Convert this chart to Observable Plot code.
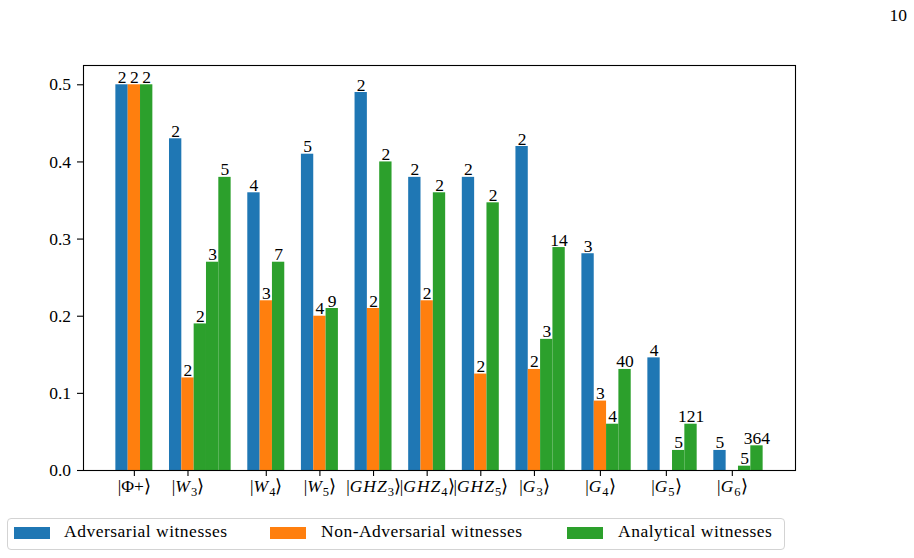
<!DOCTYPE html>
<html>
<head>
<meta charset="utf-8">
<script src="https://cdn.jsdelivr.net/npm/d3@7"></script>
<script src="https://cdn.jsdelivr.net/npm/@observablehq/plot@0.6"></script>
<style>
  body { margin: 0; background: #fff; }
  #page { position: relative; width: 914px; height: 558px; overflow: hidden; font-family: 'Liberation Serif'; color: #000; }
  #chart { position: absolute; left: 0; top: 0; }
  #pnum { position: absolute; right: 7px; top: 5px; font-size: 17.5px; line-height: 20px; font-family: 'Liberation Serif'; }
  #legendbox { position: absolute; left: 7px; top: 518px; width: 778px; height: 32px; box-sizing: border-box; border: 1px solid #d3d3d3; border-radius: 4px; background: #fff; }
  .sw { position: absolute; top: 527px; width: 36px; height: 12px; }
  .lt { position: absolute; top: 521px; font-size: 17.5px; line-height: 20px; white-space: nowrap; font-family: 'Liberation Serif'; letter-spacing: 0.5px; }
</style>
</head>
<body>
<div id="page">
  <div id="chart"></div>
  <div id="pnum">10</div>
  <div id="legendbox"></div>
  <div id="legend"></div>
</div>
<script>
// ---- data ----
const stateLabels = ["Φ+", "W_3", "W_4", "W_5", "GHZ_3", "GHZ_4", "GHZ_5", "G_3", "G_4", "G_5", "G_6"];
const seriesNames = ["Adversarial witnesses", "Non-Adversarial witnesses", "Analytical witnesses"];
const seriesColors = ["#1f77b4", "#ff7f0e", "#2ca02c"];

const adversarial       = [0.5, 0.43, 0.36, 0.41, 0.49, 0.38, 0.38, 0.42, 0.281, 0.146, 0.026];
const adversarialCounts = [2, 2, 4, 5, 2, 2, 2, 2, 3, 4, 5];

const nonAdversarial       = [0.5, 0.12, 0.22, 0.20, 0.21, 0.22, 0.125, 0.131, 0.09, null, null];
const nonAdversarialCounts = [2, 2, 3, 4, 2, 2, 2, 2, 3, null, null];

const analytical = [[0.5], [0.19, 0.27, 0.38], [0.27], [0.21], [0.40], [0.36], [0.347],
                    [0.17, 0.289], [0.06, 0.131], [0.026, 0.06], [0.0056, 0.032]];
const analyticalCounts = [[2], [2, 3, 5], [7], [9], [2], [2], [2], [3, 14], [4, 40], [5, 121], [5, 364]];

const yTicks = [0, 0.1, 0.2, 0.3, 0.4, 0.5];

// ---- layout in bar-slot units (blue, orange slot, then analytical bars) ----
const GAP = 1.35;
const rows = [];
const tickPos = [];
let s = 0;
stateLabels.forEach((lab, i) => {
  rows.push({series: seriesNames[0], x1: s, x2: s + 1, y: adversarial[i], n: adversarialCounts[i]});
  if (nonAdversarial[i] != null)
    rows.push({series: seriesNames[1], x1: s + 1, x2: s + 2, y: nonAdversarial[i], n: nonAdversarialCounts[i]});
  analytical[i].forEach((v, k) => {
    rows.push({series: seriesNames[2], x1: s + 2 + k, x2: s + 3 + k, y: v, n: analyticalCounts[i][k]});
  });
  tickPos.push(s + 1.5);
  s += 2 + analytical[i].length + GAP;
});
const T = s - GAP;
const pad = 0.05 * T;
const labelAt = new Map(tickPos.map((p, i) => [p, stateLabels[i]]));

const chart = Plot.plot({
  width: 914,
  height: 510,
  marginLeft: 83,
  marginRight: 119,
  marginTop: 65,
  marginBottom: 40,
  style: {fontFamily: "Liberation Serif", fontSize: "17.5px", color: "#000", background: "#fff"},
  x: {domain: [-pad, T + pad], axis: null},
  y: {domain: [0, 0.525], axis: null},
  color: {domain: seriesNames, range: seriesColors},
  marks: [
    Plot.rectY(rows, {x1: "x1", x2: "x2", y: "y", fill: "series"}),
    Plot.text(rows, {x: d => (d.x1 + d.x2) / 2, y: "y", text: d => String(d.n), lineAnchor: "bottom", dy: -2, fontSize: 17.5, fill: "#000", fontFamily: "Liberation Serif"}),
    Plot.axisY({ticks: yTicks, tickFormat: d => d.toFixed(1), tickSize: 6, tickPadding: 6.5, label: null, stroke: "#000", strokeWidth: 1.1, fontSize: 17.5, fontFamily: "Liberation Serif"}),
    Plot.axisX({ticks: tickPos, tickFormat: d => labelAt.get(d), tickSize: 6, tickPadding: 3, label: null, stroke: "#000", strokeWidth: 1.1, fontSize: 17.5, fontFamily: "Liberation Serif"}),
    Plot.frame({stroke: "#000", strokeWidth: 1.1})
  ]
});
document.getElementById("chart").appendChild(chart);

// ket-style tick labels: |W₃⟩ with italic letters and subscripts
const NS = "http://www.w3.org/2000/svg";
chart.querySelectorAll('g[aria-label="x-axis tick label"] text').forEach(t => {
  const lab = t.textContent;
  while (t.firstChild) t.removeChild(t.firstChild);
  const add = (str, attrs) => {
    const ts = document.createElementNS(NS, "tspan");
    ts.textContent = str;
    for (const k in attrs) ts.setAttribute(k, attrs[k]);
    t.appendChild(ts);
  };
  add("|", {});
  if (lab.includes("_")) {
    const [base, sub] = lab.split("_");
    add(base, {"font-style": "italic", "letter-spacing": "1px"});
    add(sub, {"font-size": "12.5px", dy: "4"});
    add("⟩", {dy: "-4"});
  } else {
    add(lab, {});
    add("⟩", {});
  }
});

// legend
const legendX = [[14, 64], [270, 321], [567, 618]];
const leg = document.getElementById("legend");
seriesNames.forEach((name, i) => {
  const sw = document.createElement("div");
  sw.className = "sw";
  sw.style.left = legendX[i][0] + "px";
  sw.style.background = seriesColors[i];
  leg.appendChild(sw);
  const lt = document.createElement("div");
  lt.className = "lt";
  lt.style.left = legendX[i][1] + "px";
  lt.textContent = name;
  leg.appendChild(lt);
});
</script>
</body>
</html>
